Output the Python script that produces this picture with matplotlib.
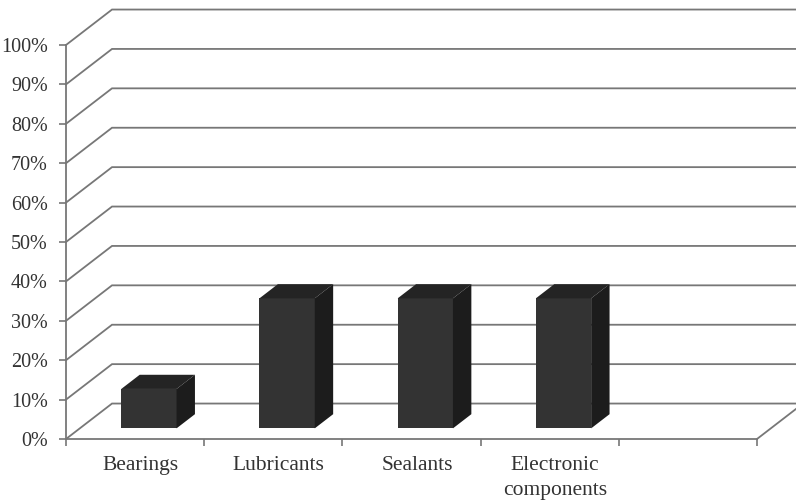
import matplotlib.pyplot as plt
from matplotlib.patches import Polygon
from matplotlib.ticker import FuncFormatter

categories = ['Bearings', 'Lubricants', 'Sealants', 'Electronic\ncomponents', '']
values = [10, 33, 33, 33, None]
y_ticks = list(range(0, 101, 10))

# depth of the 3D box, expressed in data units (x: category units, y: percent)
depth_x = 0.333
depth_y = 9.0
bar_width = 0.4
front_depth, back_depth = 0.3, 0.7

grid_color = '#777777'
text_color = '#333333'

plt.rcParams['font.family'] = ['Liberation Serif', 'DejaVu Serif']

W, H = 796, 503
fig = plt.figure(figsize=(W / 100, H / 100), dpi=100)
fig.patch.set_facecolor('white')
ax = fig.add_axes([66 / W, (H - 439) / H, (757 - 66) / W, (439 - 45) / H])
ax.set_xlim(0, len(categories))
ax.set_ylim(0, 100)
ax.patch.set_alpha(0)

for side in ['top', 'right']:
    ax.spines[side].set_visible(False)
for side in ['left', 'bottom']:
    ax.spines[side].set_color(grid_color)
    ax.spines[side].set_linewidth(1.3)

ax.set_yticks(y_ticks)
ax.yaxis.set_major_formatter(FuncFormatter(lambda v, p: f'{int(v)}%'))
ax.tick_params(axis='y', direction='out', length=5, width=1.2, color=grid_color,
               labelsize=14.5, labelcolor=text_color, pad=8)

ax.set_xticks(range(len(categories) + 1))
ax.set_xticklabels([])
ax.tick_params(axis='x', direction='out', length=5, width=1.2, color=grid_color)

# category labels under each slot
for i, name in enumerate(categories):
    ax.text(i + 0.5 + 0.04, -4.4, name, ha='center', va='top', fontsize=15.5,
            color=text_color, linespacing=1.4, clip_on=False)

# back wall and floor gridlines
x_end = len(categories) + 1
for v in y_ticks:
    ax.plot([0, depth_x, x_end], [v, v + depth_y, v + depth_y],
            color=grid_color, lw=1.3, clip_on=False, zorder=1,
            solid_joinstyle='miter')
ax.plot([len(categories), len(categories) + depth_x], [0, depth_y],
        color=grid_color, lw=1.3, clip_on=False, zorder=1)

# 3D bars
for i, v in enumerate(values):
    if v is None:
        continue
    x0 = i + 0.5 - bar_width / 2 + front_depth * depth_x
    x1 = x0 + bar_width
    y0 = front_depth * depth_y
    y1 = v + y0
    dx = (back_depth - front_depth) * depth_x
    dy = (back_depth - front_depth) * depth_y
    front = Polygon([(x0, y0), (x1, y0), (x1, y1), (x0, y1)],
                    closed=True, facecolor='#333333', edgecolor='none', zorder=3)
    top = Polygon([(x0, y1), (x1, y1), (x1 + dx, y1 + dy), (x0 + dx, y1 + dy)],
                  closed=True, facecolor='#242424', edgecolor='none', zorder=3)
    side = Polygon([(x1, y0), (x1 + dx, y0 + dy), (x1 + dx, y1 + dy), (x1, y1)],
                   closed=True, facecolor='#1c1c1c', edgecolor='none', zorder=3)
    for p in (front, top, side):
        ax.add_patch(p)

fig.savefig('out.png', dpi=100, facecolor='white')
